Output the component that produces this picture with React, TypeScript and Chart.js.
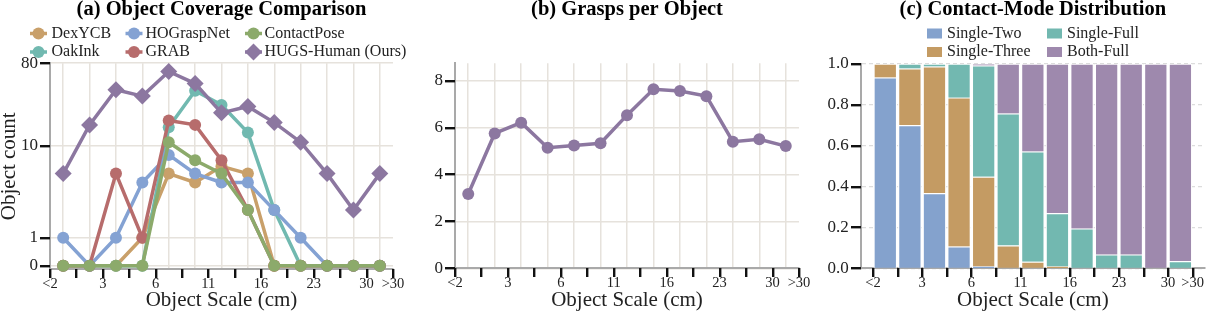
import React, { useEffect, useRef } from 'react';
import { Chart, registerables, LinearScale } from 'chart.js';

Chart.register(...registerables);

// ---------------- data ----------------
const EDGE_LABELS = ['<2', '', '3', '', '6', '', '11', '', '16', '', '23', '', '30', '>30'];
const N_BINS = 13;

// (a) object counts per scale bin
const DEXYCB = [0, 0, 0, 1, 5, 4, 6, 5, 0, 0, 0, 0, 0];
const OAKINK = [0, 0, 0, 0, 16, 40, 28, 14, 2, 0, 0, 0, 0];
const HOGRASPNET = [1, 0, 1, 4, 8, 5, 4, 4, 2, 1, 0, 0, 0];
const GRAB = [0, 0, 5, 1, 19, 17, 7, 2, 0, 0, 0, 0, 0];
const CONTACTPOSE = [0, 0, 0, 0, 11, 7, 5, 2, 0, 0, 0, 0, 0];
const HUGS_HUMAN = [5, 17, 41, 35, 65, 48, 23, 27, 18, 11, 5, 2, 5];
const COUNT_TICKS = [0, 1, 10, 80];

// (b) grasps per object
const GRASPS_PER_OBJECT = [3.17, 5.75, 6.21, 5.14, 5.24, 5.33, 6.53, 7.63, 7.56, 7.34, 5.4, 5.5, 5.21];
const GRASP_TICKS = [0, 2, 4, 6, 8];

// (c) contact-mode fractions
const SINGLE_TWO = [0.933, 0.7, 0.367, 0.106, 0.008, 0, 0, 0, 0, 0, 0, 0, 0];
const SINGLE_THREE = [0.067, 0.277, 0.62, 0.729, 0.44, 0.111, 0.032, 0.008, 0, 0, 0, 0, 0];
const SINGLE_FULL = [0, 0.023, 0.013, 0.165, 0.544, 0.646, 0.539, 0.261, 0.194, 0.067, 0.067, 0, 0.034];
const BOTH_FULL = [0, 0, 0, 0, 0.008, 0.243, 0.429, 0.731, 0.806, 0.933, 0.933, 1.0, 0.966];
const FRACTION_TICKS = [0, 0.2, 0.4, 0.6, 0.8, 1.0];

// ---------------- style ----------------
const SERIF = '"Liberation Serif", "Times New Roman", serif';
const TEXT = '#222222';
const GRID = '#e6e2dc';
const AXIS = '#a9a9a9';
const TICK = '#111111';
const CLEAR = 'rgba(0,0,0,0)';

Chart.defaults.font.family = SERIF;

// symmetric-log value axis (linear below 1, log above)
const LINSCALE = 0.305;
const symlog = (v: number) =>
  Math.abs(v) <= 1 ? v * LINSCALE : Math.sign(v) * (LINSCALE + Math.log10(Math.abs(v)));
const invSymlog = (t: number) =>
  Math.abs(t) <= LINSCALE ? t / LINSCALE : Math.sign(t) * Math.pow(10, Math.abs(t) - LINSCALE);

class SymlogScale extends LinearScale {
  getPixelForValue(value: number) {
    const a = symlog((this as any).min);
    const b = symlog((this as any).max);
    return (this as any).getPixelForDecimal((symlog(value) - a) / (b - a));
  }
  getValueForPixel(pixel: number) {
    const a = symlog((this as any).min);
    const b = symlog((this as any).max);
    return invSymlog(a + (this as any).getDecimalForPixel(pixel) * (b - a));
  }
}
(SymlogScale as any).id = 'symlog';
(SymlogScale as any).defaults = (LinearScale as any).defaults;
Chart.register(SymlogScale as any);

type LegendItem = { label: string; color: string; kind: 'line' | 'box'; style?: string };
type DecorCfg = {
  title: string;
  xTitle: string;
  yTitle?: string;
  items: LegendItem[];
  handleX: number[];
  textX: number[];
  rowsY: number[];
};

function drawHandle(ctx: CanvasRenderingContext2D, it: LegendItem, cx: number, cy: number) {
  ctx.fillStyle = it.color;
  if (it.kind === 'box') {
    ctx.fillRect(cx - 7.5, cy - 5, 15, 10);
    return;
  }
  ctx.strokeStyle = it.color;
  ctx.lineWidth = 3.5;
  ctx.beginPath();
  ctx.moveTo(cx - 8.5, cy);
  ctx.lineTo(cx + 8.5, cy);
  ctx.stroke();
  ctx.beginPath();
  if (it.style === 'rectRot') {
    const r = 8.5;
    ctx.moveTo(cx - r, cy);
    ctx.lineTo(cx, cy - r);
    ctx.lineTo(cx + r, cy);
    ctx.lineTo(cx, cy + r);
    ctx.closePath();
  } else {
    ctx.arc(cx, cy, 6, 0, Math.PI * 2);
  }
  ctx.fill();
}

function makeDecor(cfg: DecorCfg) {
  return {
    id: 'decor',
    afterDraw(chart: any) {
      const ctx: CanvasRenderingContext2D = chart.ctx;
      const ca = chart.chartArea;
      const cx = (ca.left + ca.right) / 2;
      ctx.save();

      // tick marks (x at bin edges, y at value ticks)
      const xs = chart.scales.x;
      const ys = chart.scales.y;
      ctx.fillStyle = TICK;
      for (const t of xs.ticks) {
        if (!Number.isInteger(t.value)) continue;
        const px = Math.round(xs.getPixelForValue(t.value));
        ctx.fillRect(px - 1, Math.round(ca.bottom), 2.4, 9);
      }
      for (const t of ys.ticks) {
        const py = Math.round(ys.getPixelForValue(t.value));
        ctx.fillRect(Math.round(ca.left) - 10, py - 1, 10, 2.4);
      }

      ctx.textAlign = 'center';
      ctx.textBaseline = 'alphabetic';
      ctx.fillStyle = '#000';
      ctx.font = `bold 20.5px ${SERIF}`;
      ctx.fillText(cfg.title, cx, 15);
      ctx.fillStyle = TEXT;
      ctx.font = `21px ${SERIF}`;
      ctx.fillText(cfg.xTitle, cx, 306);
      if (cfg.yTitle) {
        ctx.save();
        ctx.translate(9.5, (ca.top + ca.bottom) / 2);
        ctx.rotate(-Math.PI / 2);
        ctx.textBaseline = 'middle';
        ctx.fillText(cfg.yTitle, 0, 0);
        ctx.restore();
      }
      ctx.font = `16px ${SERIF}`;
      ctx.textAlign = 'left';
      ctx.textBaseline = 'middle';
      const nRows = cfg.rowsY.length;
      cfg.items.forEach((it, i) => {
        const col = Math.floor(i / nRows);
        const row = i % nRows;
        const y = cfg.rowsY[row];
        drawHandle(ctx, it, cfg.handleX[col], y);
        ctx.fillStyle = TEXT;
        ctx.fillText(it.label, cfg.textX[col], y);
      });
      ctx.restore();
    },
  };
}

const toPoints = (vals: number[]) => vals.map((v, i) => ({ x: i + 0.5, y: v }));
const halfTicks = () => Array.from({ length: N_BINS * 2 + 1 }, (_, k) => ({ value: k / 2 }));
const edgeTicks = () => Array.from({ length: N_BINS + 1 }, (_, k) => ({ value: k }));

function xAxis(height: number, withGrid: boolean) {
  return {
    type: 'linear',
    min: 0,
    max: N_BINS,
    afterFit: (s: any) => {
      s.height = height;
    },
    afterBuildTicks: (s: any) => {
      s.ticks = withGrid ? halfTicks() : edgeTicks();
    },
    ticks: {
      autoSkip: false,
      maxRotation: 0,
      minRotation: 0,
      padding: -1,
      color: TEXT,
      font: { family: SERIF, size: 14.5, lineHeight: 1 },
      callback: (v: number) => (Number.isInteger(v) ? EDGE_LABELS[v] : ''),
    },
    grid: {
      drawOnChartArea: withGrid,
      color: (c: any) => (c.tick && !Number.isInteger(c.tick.value) ? GRID : CLEAR),
      lineWidth: 1.5,
      tickColor: CLEAR,
      tickLength: 9,
      tickWidth: 2,
    },
    border: { display: true, color: AXIS, width: 2 },
  };
}

function yTicks(width: number, values: number[], fmt: (v: number) => string) {
  return {
    afterFit: (s: any) => {
      s.width = width;
    },
    afterBuildTicks: (s: any) => {
      s.ticks = values.map((v) => ({ value: v }));
    },
    ticks: {
      padding: 2,
      color: TEXT,
      font: { family: SERIF, size: 17 },
      callback: (v: number) => fmt(v),
    },
  };
}

const COLORS_A = {
  DexYCB: '#c9a06a',
  OakInk: '#71b9b0',
  HOGraspNet: '#84a2d3',
  GRAB: '#b76c6c',
  ContactPose: '#8caa6b',
  HUGS: '#8c77a0',
};

const SERIES_A: { label: string; values: number[]; color: string; style: string }[] = [
  { label: 'DexYCB', values: DEXYCB, color: COLORS_A.DexYCB, style: 'circle' },
  { label: 'OakInk', values: OAKINK, color: COLORS_A.OakInk, style: 'circle' },
  { label: 'HOGraspNet', values: HOGRASPNET, color: COLORS_A.HOGraspNet, style: 'circle' },
  { label: 'GRAB', values: GRAB, color: COLORS_A.GRAB, style: 'circle' },
  { label: 'ContactPose', values: CONTACTPOSE, color: COLORS_A.ContactPose, style: 'circle' },
  { label: 'HUGS-Human (Ours)', values: HUGS_HUMAN, color: COLORS_A.HUGS, style: 'rectRot' },
];

const SERIES_C = [
  { label: 'Single-Two', values: SINGLE_TWO, color: '#84a2cd' },
  { label: 'Single-Three', values: SINGLE_THREE, color: '#c49b63' },
  { label: 'Single-Full', values: SINGLE_FULL, color: '#72b8b0' },
  { label: 'Both-Full', values: BOTH_FULL, color: '#9e89ad' },
];

function lineDataset(label: string, values: number[], color: string, style: string, order: number) {
  return {
    label,
    data: toPoints(values),
    borderColor: color,
    backgroundColor: color,
    pointBackgroundColor: color,
    pointBorderColor: color,
    pointBorderWidth: 0,
    borderWidth: 3.5,
    pointRadius: style === 'rectRot' ? 8.5 : 6,
    pointStyle: style,
    tension: 0,
    clip: false,
    order,
  };
}

const baseOptions = {
  responsive: false,
  maintainAspectRatio: false,
  animation: false,
  devicePixelRatio: 1,
  events: [],
};

const yGrid = { color: GRID, lineWidth: 1.5, tickColor: CLEAR, tickLength: 10, tickWidth: 2 };

function configA(): any {
  return {
    type: 'line',
    data: {
      datasets: SERIES_A.map((s, i) => lineDataset(s.label, s.values, s.color, s.style, SERIES_A.length - 1 - i)),
    },
    options: {
      ...baseOptions,
      layout: { padding: { left: 0, right: 17, top: 63.2, bottom: 0 } },
      plugins: { legend: { display: false }, tooltip: { enabled: false }, title: { display: false } },
      scales: {
        x: xAxis(43.7, true),
        y: {
          type: 'symlog',
          min: -0.13,
          max: 80,
          ...yTicks(50, COUNT_TICKS, (v) => String(v)),
          grid: yGrid,
          border: { display: true, color: AXIS, width: 2 },
        },
      },
    },
    plugins: [
      makeDecor({
        title: '(a) Object Coverage Comparison',
        xTitle: 'Object Scale (cm)',
        yTitle: 'Object count',
        items: SERIES_A.map((s) => ({ label: s.label, color: s.color, kind: 'line', style: s.style })),
        handleX: [38.5, 134, 253.5],
        textX: [51.5, 145.5, 264.5],
        rowsY: [33.5, 52],
      }),
    ],
  };
}

function configB(): any {
  return {
    type: 'line',
    data: {
      datasets: [lineDataset('Grasps per object', GRASPS_PER_OBJECT, COLORS_A.HUGS, 'circle', 0)],
    },
    options: {
      ...baseOptions,
      layout: { padding: { left: 0, right: 16, top: 63.3, bottom: 0 } },
      plugins: { legend: { display: false }, tooltip: { enabled: false }, title: { display: false } },
      scales: {
        x: xAxis(44.7, true),
        y: {
          type: 'linear',
          min: 0,
          max: 8.74,
          ...yTicks(45, GRASP_TICKS, (v) => String(v)),
          grid: yGrid,
          border: { display: true, color: AXIS, width: 2 },
        },
      },
    },
    plugins: [
      makeDecor({
        title: '(b) Grasps per Object',
        xTitle: 'Object Scale (cm)',
        items: [],
        handleX: [],
        textX: [],
        rowsY: [33.5, 52],
      }),
    ],
  };
}

function configC(): any {
  return {
    type: 'bar',
    data: {
      datasets: SERIES_C.map((s) => ({
        label: s.label,
        data: toPoints(s.values),
        backgroundColor: s.color,
        borderColor: '#ffffff',
        borderWidth: 1.2,
        borderSkipped: 'start',
        barThickness: 23,
      })),
    },
    options: {
      ...baseOptions,
      layout: { padding: { left: 0, right: 13, top: 64, bottom: 0 } },
      plugins: { legend: { display: false }, tooltip: { enabled: false }, title: { display: false } },
      scales: {
        x: { ...xAxis(44.7, false), stacked: true },
        y: {
          type: 'linear',
          stacked: true,
          min: 0,
          max: 1,
          ...yTicks(45.7, FRACTION_TICKS, (v) => v.toFixed(1)),
          grid: { color: '#dcdcdc', lineWidth: 1.2, tickColor: CLEAR, tickLength: 10, tickWidth: 2 },
          border: { display: true, color: AXIS, width: 2, dash: [4, 3] },
        },
      },
    },
    plugins: [
      makeDecor({
        title: '(c) Contact-Mode Distribution',
        xTitle: 'Object Scale (cm)',
        items: SERIES_C.map((s) => ({ label: s.label, color: s.color, kind: 'box' })),
        handleX: [119.5, 239.5],
        textX: [132, 252],
        rowsY: [33.5, 52],
      }),
    ],
  };
}

function Panel({ left, width, make }: { left: number; width: number; make: () => any }) {
  const ref = useRef<HTMLCanvasElement | null>(null);
  useEffect(() => {
    if (!ref.current) return;
    const chart = new Chart(ref.current, make());
    return () => chart.destroy();
  }, []);
  return (
    <canvas
      ref={ref}
      width={width}
      height={313}
      style={{ position: 'absolute', left, top: 0, width, height: 313 }}
    />
  );
}

export default function App() {
  return (
    <div style={{ position: 'absolute', left: 0, top: 0, width: 1218, height: 313, background: '#ffffff', overflow: 'hidden' }}>
      <Panel left={0} width={410} make={configA} />
      <Panel left={410} width={405} make={configB} />
      <Panel left={815} width={403} make={configC} />
    </div>
  );
}
